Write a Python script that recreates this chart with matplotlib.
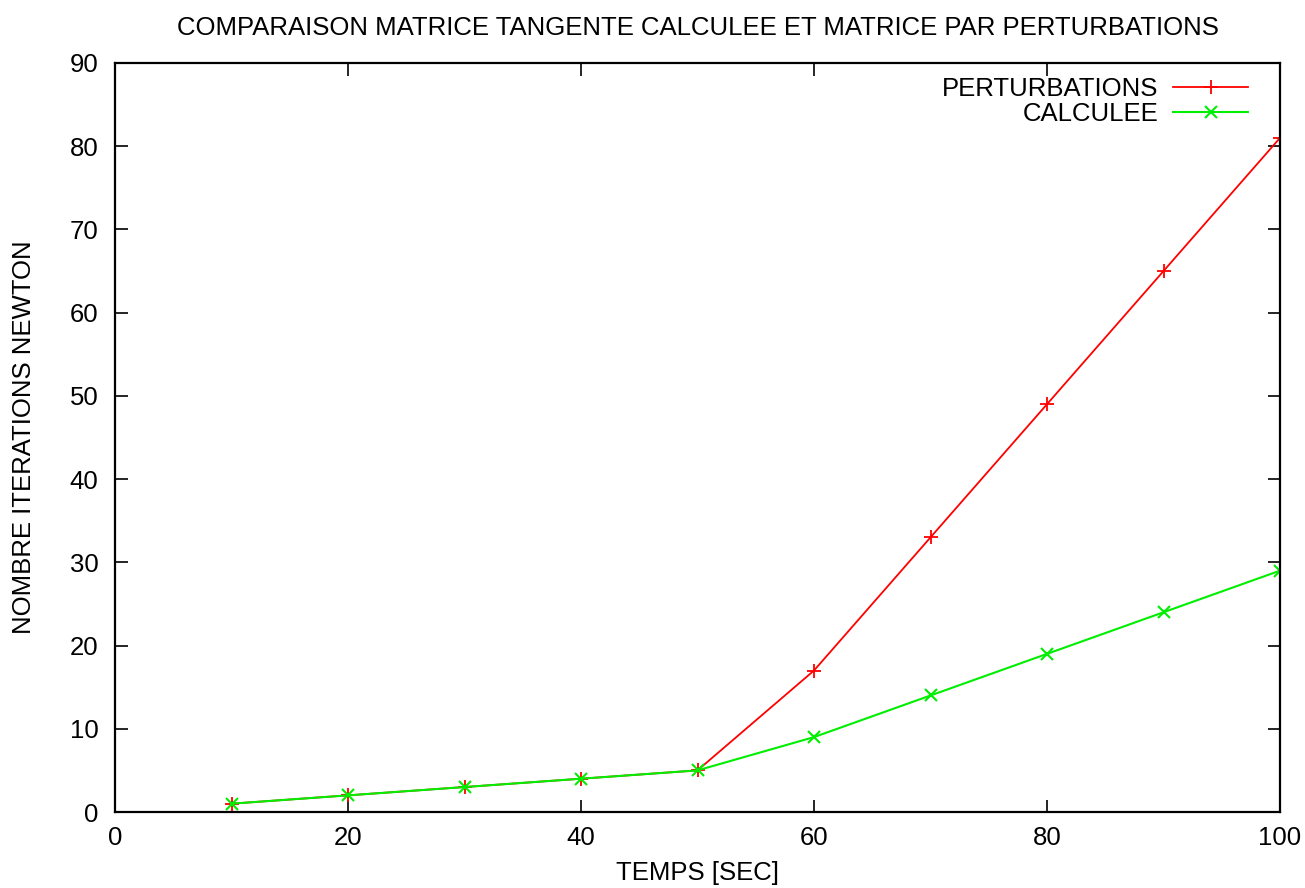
import matplotlib
matplotlib.use("Agg")
import matplotlib.pyplot as plt

temps = [10, 20, 30, 40, 50, 60, 70, 80, 90, 100]
perturbations = [1, 2, 3, 4, 5, 17, 33, 49, 65, 81]
calculee = [1, 2, 3, 4, 5, 9, 14, 19, 24, 29]
xticks = [0, 20, 40, 60, 80, 100]
yticks = [0, 10, 20, 30, 40, 50, 60, 70, 80, 90]

FS = 18.5
plt.rcParams['font.family'] = ['Liberation Sans', 'DejaVu Sans']
fig = plt.figure(figsize=(13.05, 8.88), dpi=100)
ax = fig.add_axes([115/1305, 1-812/888, (1280-115)/1305, (812-63)/888])

ax.plot(temps, perturbations, color='#ff0000', lw=1.3, marker='+', ms=10, mew=1.3, label='PERTURBATIONS')
ax.plot(temps, calculee, color='#00ee00', lw=1.5, marker='x', ms=8, mew=1.5, label='CALCULEE')

ax.set_xlim(0, 100)
ax.set_ylim(0, 90)
ax.set_xticks(xticks)
ax.set_yticks(yticks)
ax.tick_params(direction='in', top=True, right=True, length=9, width=1.2, labelsize=FS, colors='black')
ax.tick_params(axis='y', pad=12)
ax.tick_params(axis='x', pad=10)
for s in ax.spines.values():
    s.set_linewidth(1.6)

ax.set_xlabel('TEMPS [SEC]', fontsize=FS, labelpad=8)
ax.set_ylabel('NOMBRE ITERATIONS NEWTON', fontsize=FS, labelpad=24)
ax.set_title('COMPARAISON MATRICE TANGENTE CALCULEE ET MATRICE PAR PERTURBATIONS', fontsize=FS, pad=20)

leg = ax.legend(loc='upper right', bbox_to_anchor=(1 - 32/1165, 1 - 14/749), frameon=False,
                fontsize=FS, markerfirst=False, handlelength=2.9, borderaxespad=0, borderpad=0,
                labelspacing=0.05, handletextpad=0.6)

fig.savefig('out.png', dpi=100)
